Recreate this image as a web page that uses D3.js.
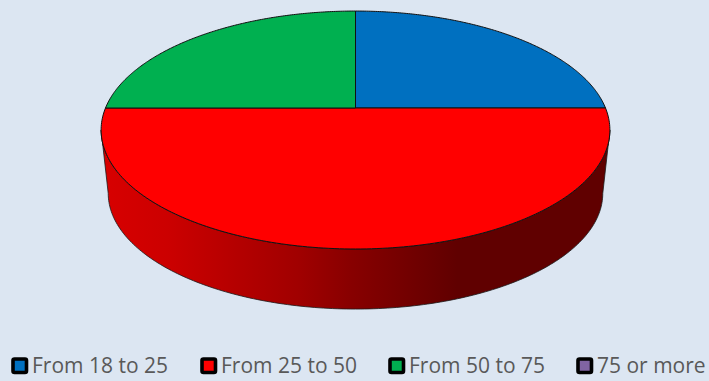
<!DOCTYPE html>
<html>
<head>
<meta charset="utf-8">
<script src="https://cdn.jsdelivr.net/npm/d3@7"></script>
<style>
html, body { margin: 0; padding: 0; background: #dce6f2; overflow: hidden; }
</style>
</head>
<body>
<div id="chart"></div>
<script>
// legend order = slice order, clockwise from 12 o'clock
const categories = ['From 18 to 25', 'From 25 to 50', 'From 50 to 75', '75 or more'];
const shares = [25, 50, 25, 0];
const colors = ['#0070c0', '#ff0000', '#00b050', '#8064a2'];

const width = 709, height = 381;

// tilted disc: unit circle pushed through a perspective divide
const k = 0.185;
const apex = { x: 355.5, y: 108 };
const top_ = { a: 250, b: 114.9, dy: 0 };
const bottom_ = { a: 243, b: 111.7, dy: 64 };

function project(angle, p) {
    const u = Math.sin(angle);
    const v = -Math.cos(angle);
    const w = 1 - k * v;
    return [apex.x + p.a * u / w, apex.y + p.dy + p.b * v / w];
}

const svg = d3.select('#chart')
    .append('svg')
    .attr('width', width)
    .attr('height', height)
    .attr('viewBox', [0, 0, width, height])
    .style('display', 'block');

const pie = d3.pie().sort(null)(shares);
const line = d3.line();

function rim(a0, a1, p) {
    return d3.range(0, 181).map(i => project(a0 + (a1 - a0) * i / 180, p));
}

// side wall shading, same stops for the whole front
const defs = svg.append('defs');
const sideStops = [[0, '#d80000'], [0.13, '#cc0000'], [0.27, '#b40000'], [0.39, '#a00000'], [0.49, '#880000'], [0.70, '#600000'], [1, '#600000']];
const grad = defs.append('linearGradient')
    .attr('id', 'side')
    .attr('gradientUnits', 'userSpaceOnUse')
    .attr('x1', 101).attr('x2', 610).attr('y1', 0).attr('y2', 0);
grad.selectAll('stop')
    .data(sideStops)
    .join('stop')
    .attr('offset', d => d[0])
    .attr('stop-color', d => d[1]);

// wall runs between the widest points of both rims, disc on top hides the rest
const widest = Math.acos(-k);
const topRim = rim(widest, 2 * Math.PI - widest, top_);
const botRim = rim(widest, 2 * Math.PI - widest, bottom_).reverse();
svg.append('path')
    .attr('d', line(topRim.concat(botRim)) + 'Z')
    .attr('fill', 'url(#side)')
    .attr('stroke', '#1a1a1a')
    .attr('stroke-width', 0.8);

// slices
svg.append('g')
    .selectAll('path')
    .data(pie.filter(d => d.value > 0))
    .join('path')
    .attr('d', d => line([[apex.x, apex.y]].concat(rim(d.startAngle, d.endAngle, top_))) + 'Z')
    .attr('fill', d => colors[d.index])
    .attr('stroke', '#111')
    .attr('stroke-width', 1)
    .attr('stroke-linejoin', 'round');

// legend
const legendX = d3.scaleOrdinal().domain(categories).range([11, 200, 388, 576]);
const legend = svg.append('g')
    .selectAll('g')
    .data(categories)
    .join('g')
    .attr('transform', d => `translate(${legendX(d)},357)`);

legend.append('rect')
    .attr('x', 2).attr('y', 2)
    .attr('width', 13.5).attr('height', 13.5)
    .attr('rx', 1.5)
    .attr('fill', (d, i) => colors[i])
    .attr('stroke', '#000')
    .attr('stroke-width', 3.6);

legend.append('text')
    .attr('x', 21)
    .attr('y', 15.5)
    .attr('font-family', '"Open Sans", sans-serif')
    .attr('font-size', 21)
    .attr('fill', '#595959')
    .text(d => d);
</script>
</body>
</html>
